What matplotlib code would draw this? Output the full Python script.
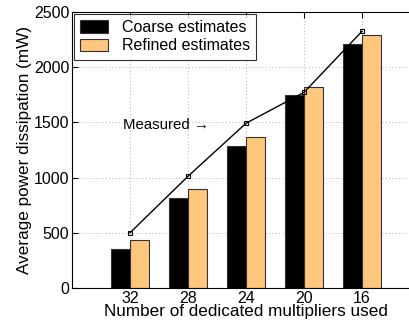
import matplotlib
matplotlib.use('Agg')
import matplotlib.pyplot as plt
import numpy as np

plt.rcParams['font.family'] = ['Liberation Sans', 'DejaVu Sans']
plt.rcParams['font.size'] = 11.5

# data
multipliers = ['32', '28', '24', '20', '16']
coarse = [356, 818, 1286, 1745, 2213]
refined = [435, 897, 1365, 1823, 2292]
measured = [500, 1012, 1492, 1772, 2325]

x = np.arange(1, len(multipliers) + 1)
w = 0.33

fig = plt.figure(figsize=(4.09, 3.22), dpi=100)
ax = fig.add_axes([72 / 409, 34 / 322, 348 / 409, 276 / 322])

ax.bar(x - w / 2, coarse, w, color='black', edgecolor='#333333', linewidth=0.8,
       label='Coarse estimates', zorder=2)
ax.bar(x + w / 2, refined, w, color='#FFC67E', edgecolor='#333333', linewidth=0.8,
       label='Refined estimates', zorder=2)
ax.plot(x, measured, 'k-', marker='s', markersize=3.5, markerfacecolor='none',
        markeredgewidth=0.8, linewidth=1.0, zorder=3)

ax.set_xlim(0, 6)
ax.set_ylim(0, 2500)
ax.set_xticks(x)
ax.set_xticklabels(multipliers)
ax.set_yticks(range(0, 2501, 500))
ax.grid(True, linestyle=(0, (1, 3)), color='#999999', linewidth=0.6, zorder=0)
ax.set_axisbelow(True)
ax.tick_params(direction='in', top=True, right=True, length=4, pad=2,
               labelsize=11.5)

ax.set_xlabel('Number of dedicated multipliers used', fontsize=12.3, labelpad=-1)
ax.set_ylabel('Average power dissipation (mW)', fontsize=12.3, labelpad=1)

ax.text(0.88, 1476, 'Measured \u2192', ha='left', va='center', fontsize=10.8)

leg = ax.legend(loc='upper left', frameon=True, fancybox=False, edgecolor='black',
                fontsize=11.5, borderaxespad=0.1, handlelength=1.75,
                handleheight=0.8, handletextpad=0.85, borderpad=0.4,
                labelspacing=0.2)
leg.get_frame().set_linewidth(0.8)

fig.savefig('out.png', dpi=100)
